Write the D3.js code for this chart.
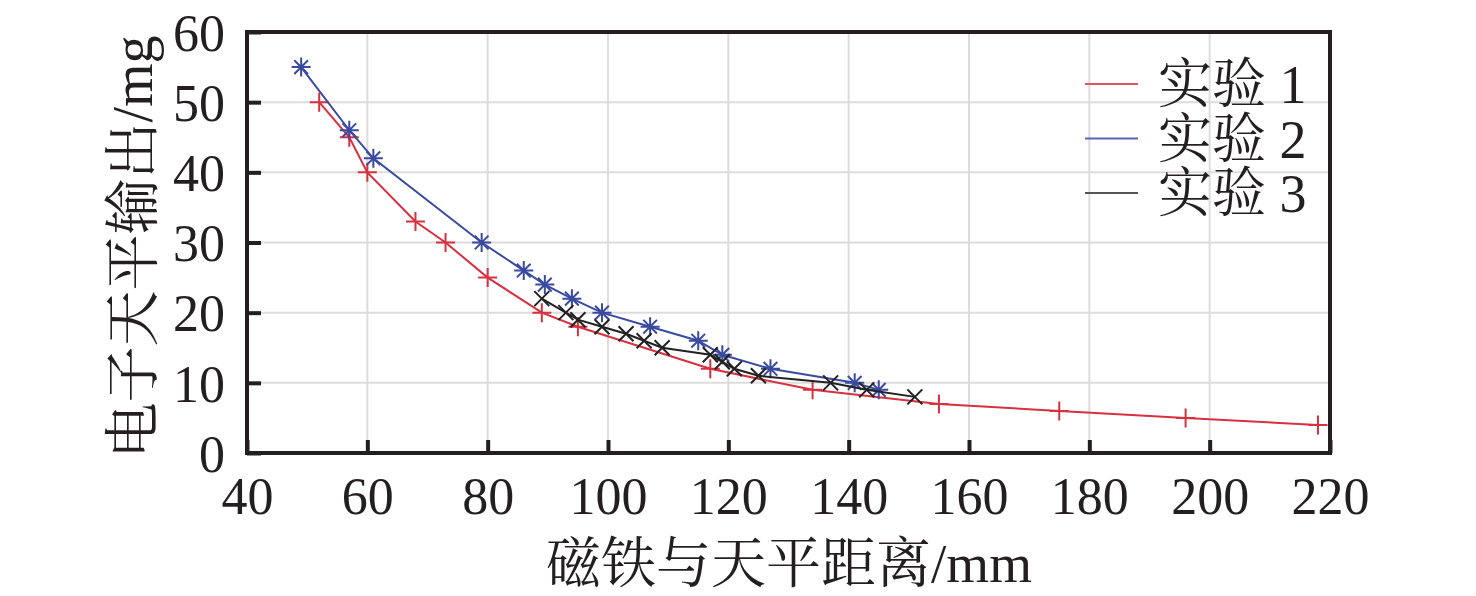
<!DOCTYPE html>
<html><head><meta charset="utf-8">
<script src="https://cdn.jsdelivr.net/npm/d3@7"></script>
<style>html,body{margin:0;padding:0;background:#fff;}svg{display:block;}</style>
</head><body>
<script>
const xTicks = [40,60,80,100,120,140,160,180,200,220];
const yTicks = [0,10,20,30,40,50,60];
const series1X = [52,57,60,68,73,80,89,95,117,134,155,175,196,218];
const series1Y = [50,45,40,33,30,25,20,18,12,9,7,6,5,4];
const series2X = [49,57,61,79,86,89.5,94,99,107,115,119,127,141,145];
const series2Y = [55,46,42,30,26,24,22,20,18,16,14,12,10,9];
const series3X = [89,93,95,99,103,106,109,117,119,121,125,137,143,151];
const series3Y = [22,20,19,18,17,16,15,14,13,12,11,10,9,8];
const seriesNames = ["实验 1","实验 2","实验 3"];
const xLabel = "磁铁与天平距离/mm";
const yLabel = "电子天平输出/mg";

const W = 1476, H = 596;
const L = 247, R = 1330, T = 32, B = 453;
const font = "'Liberation Serif','Times New Roman','Noto Serif CJK SC','Noto Sans CJK SC',serif";
const svg = d3.select("body").append("svg").attr("width", W).attr("height", H);
const x = d3.scaleLinear().domain([40,220]).range([L,R]);
const y = d3.scaleLinear().domain([0,60]).range([B,T]);

// grid
const grid = svg.append("g");
grid.selectAll("line.v").data(xTicks.slice(1,-1)).enter().append("line")
  .attr("x1", d=>x(d)).attr("x2", d=>x(d)).attr("y1", T).attr("y2", B)
  .attr("stroke", "#dcdcdc").attr("stroke-width", 2);
grid.selectAll("line.h").data(yTicks.slice(1,-1)).enter().append("line")
  .attr("y1", d=>y(d)).attr("y2", d=>y(d)).attr("x1", L).attr("x2", R)
  .attr("stroke", "#dcdcdc").attr("stroke-width", 2);

// axes
const xAxis = d3.axisBottom(x).tickValues(xTicks).tickSize(-13).tickPadding(24).tickSizeOuter(0);
const yAxis = d3.axisLeft(y).tickValues(yTicks).tickSize(-14).tickPadding(26).tickSizeOuter(0);
const gx = svg.append("g").attr("transform", `translate(0,${B})`).call(xAxis);
const gy = svg.append("g").attr("transform", `translate(${L},0)`).call(yAxis);
[gx, gy].forEach(g => {
  g.select(".domain").remove();
  g.selectAll(".tick line").attr("stroke", "#231f20").attr("stroke-width", 4);
  g.selectAll(".tick text").attr("font-family", font).attr("font-size", 52).attr("fill", "#231f20");
});
gx.selectAll(".tick text").attr("dy", "0.71em");
gy.selectAll(".tick text").attr("dx", "4").attr("dy", "0.35em");

// frame
svg.append("rect").attr("x", L).attr("y", T).attr("width", R-L).attr("height", B-T)
  .attr("fill", "none").attr("stroke", "#231f20").attr("stroke-width", 4);

const colors = ["#d7303f", "#3a4aa0", "#222222"];
const legendColors = ["#e05464", "#5a64b4", "#555555"];
const data = [
  series1X.map((v,i)=>({x:v, y:series1Y[i]})),
  series2X.map((v,i)=>({x:v, y:series2Y[i]})),
  series3X.map((v,i)=>({x:v, y:series3Y[i]}))
];
const line = d3.line().x(d=>x(d.x)).y(d=>y(d.y)).curve(d3.curveLinear);
const markerPaths = [
  s => `M${-s},0H${s}M0,${-s}V${s}`,
  s => { const d = s*0.72; return `M${-s},0H${s}M0,${-s}V${s}M${-d},${-d}L${d},${d}M${-d},${d}L${d},${-d}`; },
  s => { const d = s*0.75; return `M${-d},${-d}L${d},${d}M${-d},${d}L${d},${-d}`; }
];
const markerSize = [9.5, 9.5, 10];
data.forEach((pts, k) => {
  const g = svg.append("g");
  g.append("path").attr("d", line(pts)).attr("fill", "none")
    .attr("stroke", colors[k]).attr("stroke-width", 2);
  g.selectAll("path.m").data(pts).enter().append("path")
    .attr("transform", d=>`translate(${x(d.x)},${y(d.y)})`)
    .attr("d", markerPaths[k](markerSize[k]))
    .attr("stroke", colors[k]).attr("stroke-width", 2).attr("fill", "none");
});

// legend
const leg = svg.append("g");
seriesNames.forEach((name, k) => {
  const yy = 84 + k*54.5;
  leg.append("line").attr("x1", 1085).attr("x2", 1138).attr("y1", yy).attr("y2", yy)
    .attr("stroke", legendColors[k]).attr("stroke-width", 2);
  leg.append("text").attr("x", 1158).attr("y", yy).attr("dy", "0.36em")
    .attr("font-family", font).attr("font-size", 54).attr("fill", "#231f20").text(name);
});

// axis labels
svg.append("text").attr("x", 789).attr("y", 582)
  .attr("text-anchor", "middle").attr("font-family", font).attr("font-size", 55)
  .attr("fill", "#231f20").text(xLabel);
svg.append("text").attr("transform", `translate(152,247) rotate(-90)`)
  .attr("text-anchor", "middle").attr("font-family", font).attr("font-size", 56)
  .attr("fill", "#231f20").text(yLabel);
</script>
</body></html>
